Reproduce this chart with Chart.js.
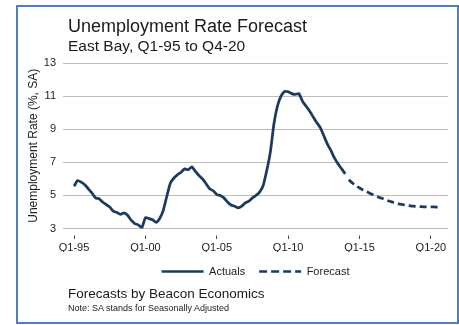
<!DOCTYPE html>
<html>
<head>
<meta charset="utf-8">
<script src="https://cdn.jsdelivr.net/npm/chart.js@4"></script>
<style>
    body { margin: 0; background: #fff; }
    #wrap { position: relative; width: 459px; height: 325px; font-family: 'Liberation Sans', Arial, sans-serif; color: #1a1a1a; }
    #frame { position: absolute; left: 16px; top: 5px; width: 439px; height: 315px; border: 2px solid #4e80bf; }
    canvas { position: absolute; left: 0; top: 0; }
    .txt { position: absolute; left: 68px; line-height: 1; white-space: nowrap; }
</style>
</head>
<body>
<div id="wrap">
    <div id="frame"></div>
    <canvas id="chart" width="459" height="325"></canvas>
    <div class="txt" style="top:16.5px;font-size:18px">Unemployment Rate Forecast</div>
    <div class="txt" style="top:38px;font-size:15.5px">East Bay, Q1-95 to Q4-20</div>
    <div class="txt" style="top:286.5px;font-size:13.5px">Forecasts by Beacon Economics</div>
    <div class="txt" style="top:304px;font-size:9px">Note: SA stands for Seasonally Adjusted</div>
</div>
<script>
// quarterly, Q1-95 .. Q1-14
const actuals = [
    5.55, 5.9, 5.8, 5.65, 5.4, 5.15, 4.85, 4.8, 4.6, 4.45,
    4.3, 4.05, 3.97, 3.85, 3.95, 3.8, 3.5, 3.3, 3.22, 3.05,
    3.65, 3.6, 3.53, 3.37, 3.6, 4.1, 4.95, 5.75, 6.05, 6.25,
    6.4, 6.6, 6.55, 6.72, 6.45, 6.2, 6.0, 5.7, 5.4, 5.28,
    5.05, 5.0, 4.85, 4.6, 4.42, 4.35, 4.25, 4.35, 4.55, 4.65,
    4.85, 5.0, 5.2, 5.6, 6.5, 7.6, 9.3, 10.4, 11.0, 11.28,
    11.26, 11.15, 11.1, 11.15, 10.7, 10.4, 10.1, 9.75, 9.4, 9.1,
    8.6, 8.1, 7.7, 7.25, 6.9, 6.6, 6.3
];
// quarterly, Q2-14 .. Q4-20
const forecast = [
    5.95, 5.75, 5.58, 5.45, 5.33, 5.22, 5.12, 5.02, 4.93, 4.84,
    4.76, 4.68, 4.61, 4.55, 4.49, 4.45, 4.41, 4.38, 4.35, 4.33,
    4.32, 4.31, 4.3, 4.3, 4.3, 4.29, 4.29
];
const tickIndex = [0, 20, 40, 60, 80, 100];
const tickLabels = ['Q1-95', 'Q1-00', 'Q1-05', 'Q1-10', 'Q1-15', 'Q1-20'];

const navy = '#1c3a5f';
const forecastStart = actuals.length;

new Chart(document.getElementById('chart'), {
    type: 'line',
    data: {
        datasets: [{
            label: 'Actuals',
            data: actuals.map((v, i) => ({ x: i, y: v })),
            borderColor: navy,
            backgroundColor: navy,
            borderWidth: 2.75,
            tension: 0.2,
            pointRadius: 0,
            borderJoinStyle: 'round'
        }, {
            label: 'Forecast',
            data: forecast.map((v, i) => ({ x: forecastStart + i, y: v })),
            borderColor: navy,
            backgroundColor: navy,
            borderWidth: 2.75,
            borderDash: [7, 4],
            tension: 0.2,
            pointRadius: 0
        }]
    },
    options: {
        responsive: false,
        animation: false,
        devicePixelRatio: 1,
        layout: {
            padding: { left: 22, right: 11, top: 63, bottom: 38 }
        },
        plugins: {
            legend: {
                position: 'bottom',
                fullSize: false,
                labels: {
                    usePointStyle: true,
                    pointStyle: 'line',
                    pointStyleWidth: 42,
                    padding: 14,
                    color: '#222',
                    font: { size: 11 },
                    // point style items lose the dataset dash, put it back
                    generateLabels: (chart) => Chart.defaults.plugins.legend.labels.generateLabels(chart).map(item => ({
                        ...item,
                        lineWidth: 2.5,
                        lineDash: item.datasetIndex === 1 ? [8, 4] : []
                    }))
                }
            },
            tooltip: { enabled: false }
        },
        scales: {
            x: {
                type: 'linear',
                min: -3.1,
                max: 104.8,
                afterFit: (scale) => { scale.height = 23.5; },
                afterBuildTicks: (scale) => {
                    scale.ticks = tickIndex.map(v => ({ value: v }));
                },
                ticks: {
                    autoSkip: false,
                    maxRotation: 0,
                    padding: 2,
                    color: '#222',
                    font: { size: 11 },
                    callback: (value, index) => tickLabels[index]
                },
                grid: {
                    drawOnChartArea: false,
                    drawTicks: true,
                    tickLength: 11,
                    tickColor: '#444',
                    tickWidth: 1,
                    tickBorderDash: [3.5, 20],
                    tickBorderDashOffset: -6.5
                },
                border: { display: false }
            },
            y: {
                min: 3,
                max: 13,
                afterFit: (scale) => { scale.width = 41; },
                ticks: {
                    stepSize: 2,
                    padding: 7,
                    color: '#222',
                    font: { size: 11 }
                },
                grid: {
                    color: '#bdbdbd',
                    lineWidth: 1,
                    drawTicks: false
                },
                border: { display: false },
                title: {
                    display: true,
                    text: 'Unemployment Rate (%, SA)',
                    color: '#222',
                    font: { size: 12 }
                }
            }
        }
    }
});
</script>
</body>
</html>
